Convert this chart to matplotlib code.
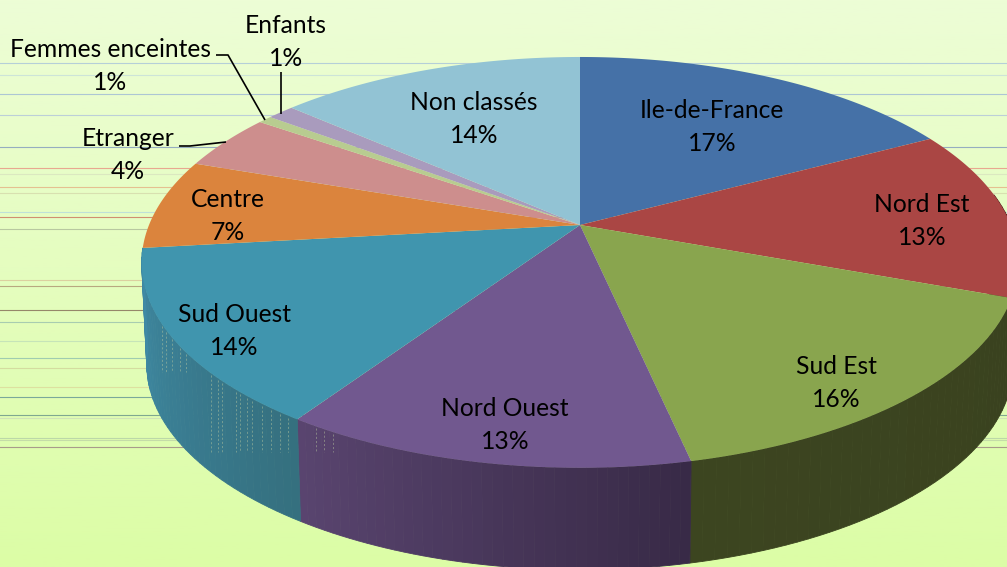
import numpy as np
import matplotlib
matplotlib.use("Agg")
import matplotlib.pyplot as plt
from matplotlib.colors import to_rgb

categories = ["Ile-de-France", "Nord Est", "Sud Est", "Nord Ouest", "Sud Ouest",
              "Centre", "Etranger", "Femmes enceintes", "Enfants", "Non classés"]
shares = [17.2, 13.4, 16.0, 12.8, 13.8, 7.1, 4.4, 0.6, 1.2, 13.5]
top_colors = ["#4571a7", "#aa4644", "#89a54e", "#71588f", "#4095ae",
              "#db843d", "#cd8e8d", "#b8cc90", "#a99bbd", "#92c3d4"]
side_left = ["#2a4466", "#4f1f1d", "#3c4520", "#5a4570", "#3f8ba6",
             "#a0602c", "#9a6a6a", "#8a9a6a", "#7f7490", "#6e92a0"]
side_right = ["#2a4466", "#4f1f1d", "#3a421f", "#382a47", "#35707f",
              "#a0602c", "#9a6a6a", "#8a9a6a", "#7f7490", "#6e92a0"]
label_pos = [(712, 127), (922, 221), (836, 383), (505, 425), (234, 331),
             (228, 216), (128, 155), (110, 66), (286, 42), (474, 119)]
stray_y = [63, 75, 94, 115, 147, 168, 174, 187, 193, 212, 217, 229, 280, 286, 310,
           322, 341, 358, 368, 387, 397, 415, 418, 438, 440, 447]
stray_c = ["#b5cfd8", "#cde4d8", "#adc6d4", "#bccfd8", "#95adc0", "#e8a890", "#dbe8c0",
           "#e5c090", "#d8e0b0", "#bfe0d8", "#d08f70", "#b8c8a0", "#dcd0a0", "#b8a880",
           "#96876a", "#a8ccb0", "#c6e4b8", "#a0ccb0", "#d4dca0", "#dde0a0", "#7ba89a",
           "#7fa890", "#cfe4b8", "#bcd8a8", "#c4dca8", "#a89b8a"]
leaders = [[(216, 55), (228, 55), (265, 120)],
           [(281, 72), (281, 114)],
           [(179, 146), (190, 146), (226, 142)]]
dash_x = [162, 166, 172, 180, 186, 211, 218, 222, 236, 240, 247, 252, 262, 271, 280, 288,
          316, 324, 333]

CX, CY, A, B, K = 580.0, 225.0, 431.0, 198.6, 0.182
DEPTH, A_LOW = 102.0, 426.0
LAST_WALL = 4  # Sud Ouest is the last slice whose wall faces the viewer


def rim(theta, a=A, dy=0.0):
    u, v = np.sin(theta), np.cos(theta)
    d = 1 + K * v
    return CX + a * u / d, CY + dy - B * v / d


fig = plt.figure(figsize=(10.07, 5.67), dpi=100)
ax = fig.add_axes([0, 0, 1, 1])
ax.set_xlim(0, 1007)
ax.set_ylim(567, 0)
ax.axis("off")

grad = np.linspace(0, 1, 256)[:, None, None]
c0, c1 = np.array(to_rgb("#edfdd6")), np.array(to_rgb("#dcfda6"))
ax.imshow(c0 + (c1 - c0) * grad, extent=(0, 1007, 567, 0), aspect="auto", zorder=0)

for y, c in zip(stray_y, stray_c):
    ax.plot([0, 1007], [y, y], color=c, lw=0.8, zorder=1)

edges = 2 * np.pi * np.concatenate([[0], np.cumsum(shares)]) / np.sum(shares)

# side wall: only the part of the rim facing the viewer
for i in range(LAST_WALL + 1):
    t0, t1 = max(edges[i], np.pi / 2 * 0.9), edges[i + 1]
    if t1 <= t0:
        continue
    ts = np.linspace(t0, t1, 41)
    cl, cr = np.array(to_rgb(side_left[i])), np.array(to_rgb(side_right[i]))
    for j in range(40):
        tt = np.linspace(ts[j], ts[j + 1], 3)
        x1, y1 = rim(tt)
        x2, y2 = rim(tt[::-1], A_LOW, DEPTH)
        # colour runs left to right across the slice, which is high to low angle
        f = (t1 - ts[j]) / (t1 - t0)
        col = cl + (cr - cl) * f
        ax.fill(np.r_[x1, x2], np.r_[y1, y2], color=col, lw=0.6, zorder=2)

# dashed artefacts on the wall
for x in dash_x:
    th = np.linspace(np.pi, 1.5 * np.pi, 400)
    rx, ry = rim(th)
    y_top = np.interp(x, rx[::-1], ry[::-1])
    y_end = 372 if x < 195 else 452
    ax.plot([x, x], [y_top + 2, y_end], color="#b9c9a0", lw=0.6, alpha=0.55,
            dashes=(2.5, 2.5), zorder=3)

# top face
for i in range(len(shares)):
    th = np.linspace(edges[i], edges[i + 1], 80)
    x, y = rim(th)
    ax.fill(np.r_[CX, x], np.r_[CY, y], color=top_colors[i], lw=0, zorder=4)

for pts in leaders:
    xs, ys = zip(*pts)
    ax.plot(xs, ys, color="black", lw=1.2, zorder=5, solid_capstyle="butt")

for name, v, (x, y) in zip(categories, shares, label_pos):
    ax.text(x, y, f"{name}\n{v:.0f}%", ha="center", va="center", family="Lato",
            fontsize=17.7, color="black", linespacing=1.52, zorder=6)

fig.savefig("out.png", dpi=100)
